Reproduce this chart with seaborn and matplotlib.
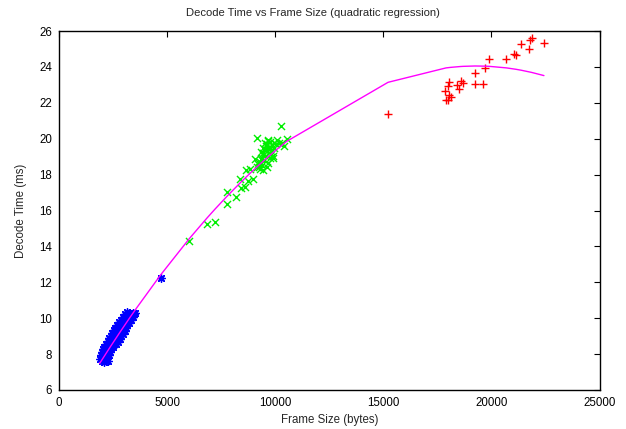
import numpy as np
import pandas as pd
import matplotlib
matplotlib.use("Agg")
import matplotlib.pyplot as plt
import seaborn as sns

# ---- data ----
blue_x = [1990, 2080, 2170, 2260,
          1880, 1970, 2060, 2150, 2230,
          1950, 2040, 2130, 2210, 2290,
          2000, 2090, 2180, 2270, 2360,
          2050, 2140, 2230, 2320, 2420,
          2100, 2200, 2300, 2400, 2520,
          2160, 2260, 2360, 2460, 2560, 2640,
          2250, 2350, 2450, 2550, 2650, 2740,
          2310, 2410, 2510, 2610, 2710, 2830,
          2390, 2490, 2590, 2690, 2790, 2880,
          2460, 2560, 2660, 2760, 2860, 2950,
          2540, 2640, 2740, 2840, 2940, 3040,
          2610, 2710, 2810, 2910, 3010, 3100,
          2690, 2790, 2890, 2990, 3080, 3160,
          2760, 2860, 2960, 3060, 3160, 3240,
          2850, 2950, 3050, 3150, 3250, 3340,
          2960, 3060, 3160, 3260, 3360, 3440,
          3060, 3160, 3260, 3360, 3450,
          3150, 3250, 3420, 3530,
          4700]
blue_y = [7.62, 7.58, 7.64, 7.60,
          7.75, 7.82, 7.78, 7.84, 7.79,
          7.97, 7.93, 7.98, 7.92, 7.96,
          8.12, 8.08, 8.13, 8.07, 8.11,
          8.27, 8.22, 8.28, 8.24, 8.26,
          8.42, 8.38, 8.43, 8.37, 8.41,
          8.57, 8.53, 8.58, 8.52, 8.56, 8.55,
          8.72, 8.68, 8.73, 8.67, 8.71, 8.69,
          8.87, 8.83, 8.88, 8.82, 8.86, 8.84,
          9.02, 8.98, 9.03, 8.97, 9.01, 8.99,
          9.17, 9.13, 9.18, 9.12, 9.16, 9.14,
          9.32, 9.28, 9.33, 9.27, 9.31, 9.29,
          9.47, 9.43, 9.48, 9.42, 9.46, 9.44,
          9.62, 9.58, 9.63, 9.57, 9.61, 9.60,
          9.77, 9.73, 9.78, 9.72, 9.76, 9.74,
          9.92, 9.88, 9.93, 9.87, 9.91, 9.89,
          10.07, 10.03, 10.08, 10.02, 10.06, 10.04,
          10.22, 10.18, 10.23, 10.19, 10.21,
          10.33, 10.30, 10.31, 10.29,
          12.25]

green_x = [6030, 6830, 7215, 7770, 7790, 8190, 8370, 8420, 8600, 8760,
           8960, 8650, 8830, 9070, 9170, 9450, 10250, 10530, 10190, 10400,
           9250, 9320, 9380, 9450, 9520, 9600, 9680, 9750, 9820, 9900,
           9280, 9360, 9440, 9510, 9590, 9660, 9740, 9810, 9890, 9960,
           9300, 9380, 9460, 9540, 9620, 9700, 9780, 9860, 9940, 10050,
           9350, 9430, 9510, 9600, 9680, 9760, 9200, 9150, 10100, 10300]
green_y = [14.32, 15.26, 15.35, 16.37, 17.02, 16.74, 17.78, 17.25, 17.30, 17.64,
           17.77, 18.27, 18.33, 18.89, 20.04, 18.23, 20.69, 20.01, 19.78, 19.60,
           18.45, 18.70, 18.95, 19.20, 19.45, 19.70, 19.90, 19.55, 19.30, 19.05,
           18.60, 18.85, 19.10, 19.35, 19.60, 19.85, 19.40, 19.15, 18.90, 19.50,
           18.30, 18.55, 18.80, 19.05, 19.30, 19.55, 19.80, 19.65, 19.75, 19.70,
           19.25, 19.50, 19.75, 18.40, 18.65, 18.90, 18.60, 18.40, 19.90, 19.75]

red_x = [21860, 21790, 22430, 21380, 21750, 21050, 21140, 20690, 19900, 19720,
         19240, 18040, 18580, 18690, 18420, 17980, 18520, 19240, 19610, 17870,
         18050, 18120, 17900, 18010, 15220]
red_y = [25.59, 25.50, 25.35, 25.26, 24.98, 24.73, 24.66, 24.45, 24.42, 23.92,
         23.64, 23.17, 23.22, 23.13, 22.97, 22.93, 22.76, 23.02, 23.06, 22.63,
         22.46, 22.33, 22.15, 22.18, 21.36]

# quadratic regression coefficients (c2, c1, c0)
fit_coef = [-5.46e-8, 2.1076e-3, 3.712]

x_ticks = [0, 5000, 10000, 15000, 20000, 25000]
y_ticks = [6, 8, 10, 12, 14, 16, 18, 20, 22, 24, 26]

# ---- figure ----
sns.set_theme(style="white")
plt.rcParams['font.family'] = ['Liberation Sans', 'DejaVu Sans']

fig = plt.figure(figsize=(6.26, 4.29), dpi=100)
ax = fig.add_axes([59 / 626, 1 - 390 / 429, 540.5 / 626, 359 / 429])

blue = pd.DataFrame({"x": blue_x, "y": blue_y})
green = pd.DataFrame({"x": green_x, "y": green_y})
red = pd.DataFrame({"x": red_x, "y": red_y})

sns.scatterplot(data=blue, x="x", y="y", ax=ax, marker=(8, 2, 0),
                color="#0000ff", s=30, linewidth=1.0, legend=False, zorder=2)
sns.scatterplot(data=green, x="x", y="y", ax=ax, marker="x",
                color="#00ee00", s=26, linewidth=1.0, legend=False, zorder=2)
sns.scatterplot(data=red, x="x", y="y", ax=ax, marker="+",
                color="#ff0000", s=34, linewidth=1.0, legend=False, zorder=2)

all_x = np.unique(np.array(blue_x + green_x + red_x, dtype=float))
fit_y = np.polyval(fit_coef, all_x)
sns.lineplot(x=all_x, y=fit_y, ax=ax, color="#ff00ff", linewidth=1.0,
             estimator=None, sort=True, zorder=3)

ax.set_xlim(0, 25000)
ax.set_ylim(6, 26)
ax.set_xticks(x_ticks)
ax.set_xticklabels([str(t) for t in x_ticks])
ax.set_yticks(y_ticks)
ax.set_yticklabels([str(t) for t in y_ticks])
ax.tick_params(direction="in", length=4, width=0.8, top=True, right=True,
               labelsize=8.3, pad=5, colors="black")
for sp in ax.spines.values():
    sp.set_visible(True)
    sp.set_color("black")
    sp.set_linewidth(1.0)

ax.set_xlabel("Frame Size (bytes)", fontsize=8.3, labelpad=4)
ax.set_ylabel("Decode Time (ms)", fontsize=8.3, labelpad=9)
fig.text(0.5, 1 - 13 / 429, "Decode Time vs Frame Size (quadratic regression)",
         ha="center", va="center", fontsize=8.1)

fig.savefig("out.png", dpi=100)
